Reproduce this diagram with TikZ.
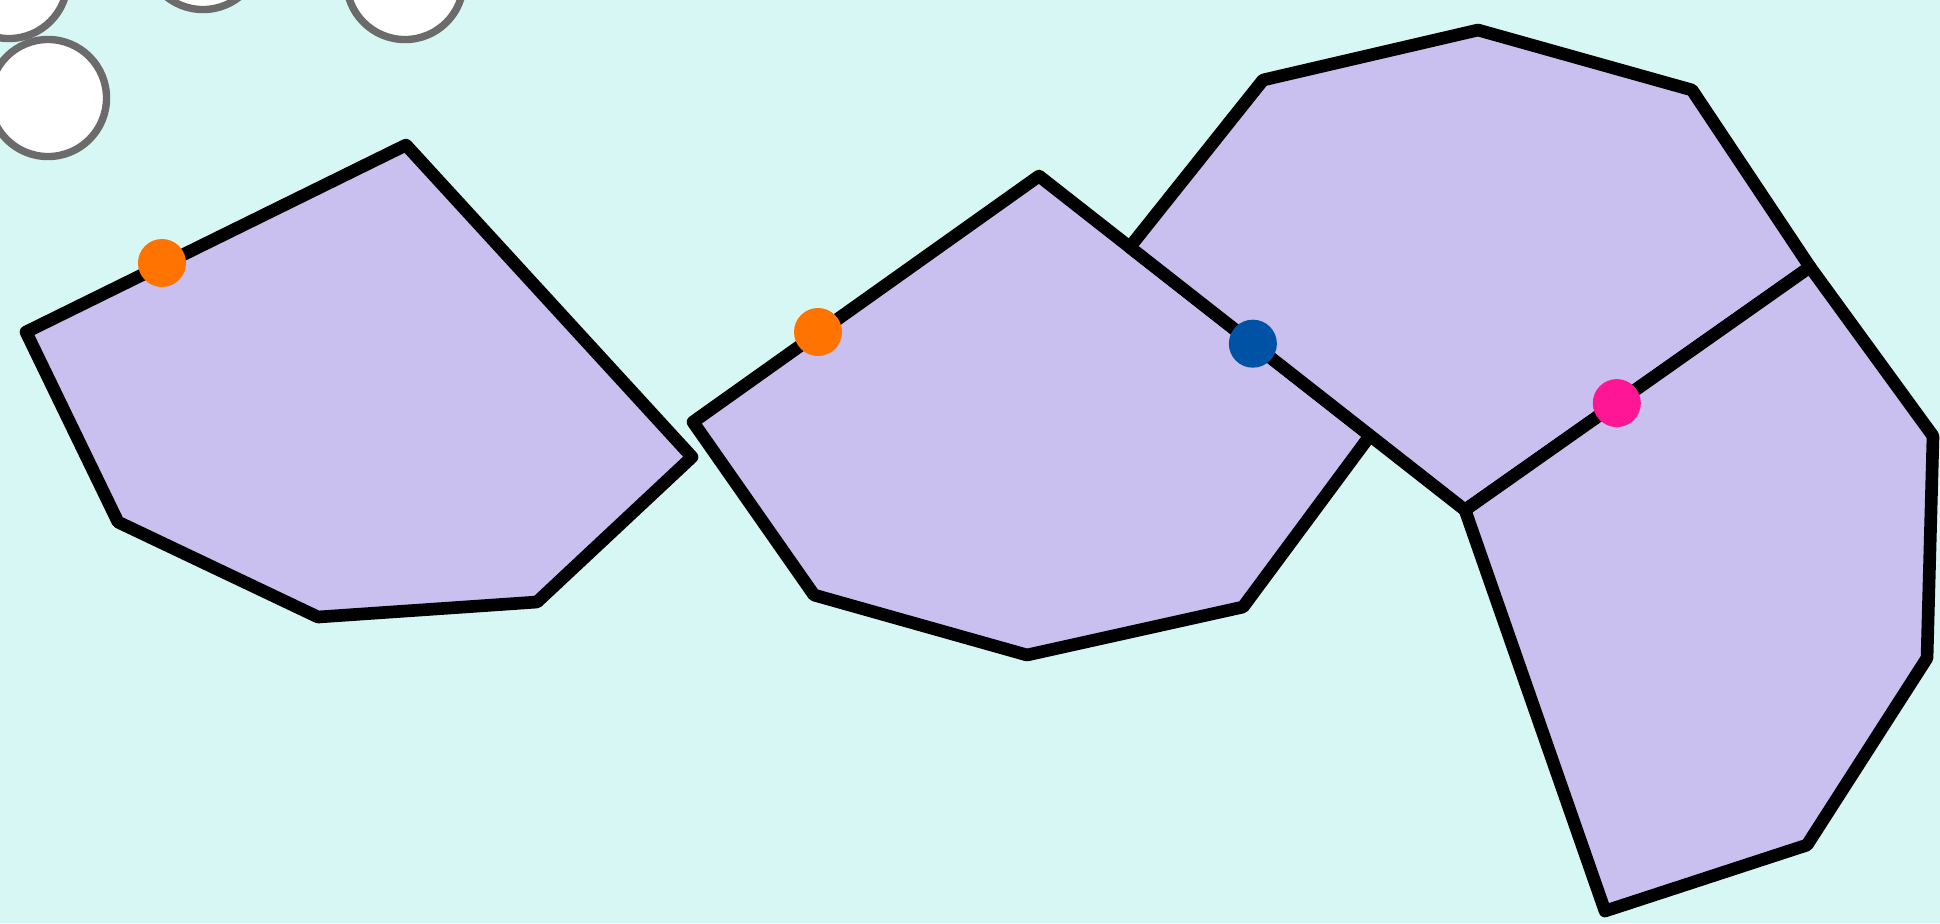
\documentclass[tikz,border=0pt]{standalone}
\usepackage{tikz}
\usetikzlibrary{calc}
\definecolor{bgcol}{RGB}{215,247,244}
\definecolor{polyfill}{RGB}{201,192,240}
\definecolor{ringgray}{RGB}{107,107,107}
\definecolor{dotorange}{RGB}{255,116,0}
\definecolor{dotblue}{RGB}{0,82,165}
\definecolor{dotpink}{RGB}{255,22,148}
\tikzset{
  poly/.style={fill=polyfill, draw=black, line width=3.6pt, line join=round},
  ring/.style={fill=white, draw=ringgray, line width=2.1pt},
  marker/.style={circle, inner sep=0pt, minimum size=0.48cm, draw=none}
}
\begin{document}
\begin{tikzpicture}[x=0.01cm, y=-0.01cm]
\useasboundingbox (0,0) rectangle (1940,923);
\clip (0,0) rectangle (1940,923);
\fill[bgcol] (0,0) rectangle (1940,923);
% white circles
\draw[ring] (9,-20) circle (0.585cm);
\draw[ring] (203,-49) circle (0.585cm);
\draw[ring] (405,-19) circle (0.585cm);
\draw[ring] (48,98) circle (0.585cm);
% vertices
\coordinate (a1) at (26,332);
\coordinate (a2) at (406,145);
\coordinate (a3) at (692,457);
\coordinate (a4) at (537,602);
\coordinate (a5) at (318,617);
\coordinate (a6) at (118,522);
\coordinate (b1) at (693,422);
\coordinate (T) at (1039,176);
\coordinate (B) at (1465,510);
\coordinate (L) at ($(T)!0.213!(B)$);
\coordinate (R) at ($(T)!0.777!(B)$);
\coordinate (b4) at (1243,607);
\coordinate (b5) at (1027,655);
\coordinate (b6) at (814,595);
\coordinate (c2) at (1263,80);
\coordinate (c3) at (1478,30);
\coordinate (c4) at (1692,90);
\coordinate (J) at (1810,267);
\coordinate (d3) at (1933,436);
\coordinate (d4) at (1927,658);
\coordinate (d5) at (1807,845);
\coordinate (d6) at (1605,911);
% polygons
\draw[poly] (a1) -- (a2) -- (a3) -- (a4) -- (a5) -- (a6) -- cycle;
\draw[poly] (b1) -- (T) -- (R) -- (b4) -- (b5) -- (b6) -- cycle;
\draw[poly] (L) -- (c2) -- (c3) -- (c4) -- (J) -- (B) -- cycle;
\draw[poly] (B) -- (J) -- (d3) -- (d4) -- (d5) -- (d6) -- cycle;
% dots
\node[marker, fill=dotorange] (o1) at (162,263) {};
\node[marker, fill=dotorange] (o2) at (818,332) {};
\node[marker, fill=dotblue] (bl) at ($(T)!0.502!(B)$) {};
\node[marker, fill=dotpink] (pk) at ($(B)!0.44!(J)$) {};
\end{tikzpicture}
\end{document}
